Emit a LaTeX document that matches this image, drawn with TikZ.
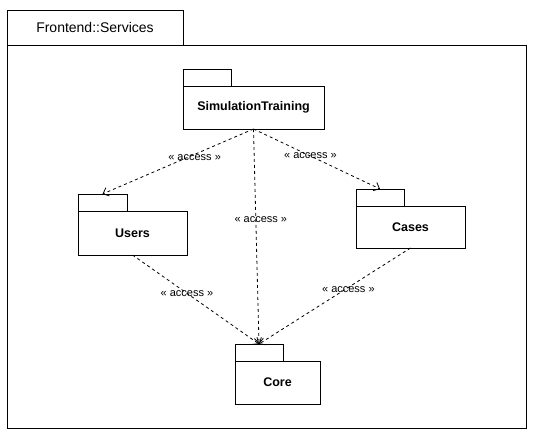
\documentclass[tikz,border=0pt]{standalone}
\usepackage{fontspec}
\setmainfont{Liberation Sans}
\usetikzlibrary{arrows.meta}

\begin{document}
\begin{tikzpicture}[x=1pt, y=-1pt, >={Straight Barb[length=5pt,width=9pt]},
  pkg/.style={draw, line width=0.8pt, inner sep=0pt, outer sep=0pt, font=\fontsize{12.5}{15}\selectfont\bfseries},
  pkgtab/.style={draw, line width=0.8pt, inner sep=0pt, outer sep=0pt, minimum width=48pt, minimum height=17pt, anchor=south west},
  dep/.style={->, line width=0.8pt, dash pattern=on 3pt off 3pt},
  lbl/.style={font=\fontsize{11}{13}\selectfont, inner sep=1pt}]
\useasboundingbox (0,0) rectangle (535,440);
\begin{scope}[line width=0.8pt]
  \draw (7,10) rectangle (183,45);
  \draw (7,45) rectangle (526,428);
  \node[font=\fontsize{14}{17}\selectfont] (frame) at (95,27.5) {Frontend::Services};
\end{scope}
\node[pkg, minimum width=141pt, minimum height=43pt] (sim) at (253.5,107.5) {SimulationTraining};
\node[pkgtab] (simtab) at (sim.north west) {};
\node[pkg, minimum width=109pt, minimum height=44pt] (users) at (132.5,233) {Users};
\node[pkgtab, minimum width=49pt] (userstab) at (users.north west) {};
\node[pkg, minimum width=109pt, minimum height=42pt] (cases) at (410.5,227) {Cases};
\node[pkgtab] (casestab) at (cases.north west) {};
\node[pkg, minimum width=85pt, minimum height=43pt] (core) at (277.5,382.5) {Core};
\node[pkgtab] (coretab) at (core.north west) {};
\draw [dep] (sim.south) -- node[lbl, pos=0.39, yshift=-3pt] {« access »} (userstab.north);
\draw [dep] (sim.south) -- node[lbl, pos=0.45] {« access »} (casestab.north);
\draw [dep] (sim.south) -- node[lbl, pos=0.42, xshift=5pt] {« access »} (coretab.north);
\draw [dep] (users.south) -- node[lbl, pos=0.43] {« access »} (coretab.north);
\draw [dep] (cases.south) -- node[lbl, pos=0.41, yshift=-2pt] {« access »} (coretab.north);
\end{tikzpicture}
\end{document}
